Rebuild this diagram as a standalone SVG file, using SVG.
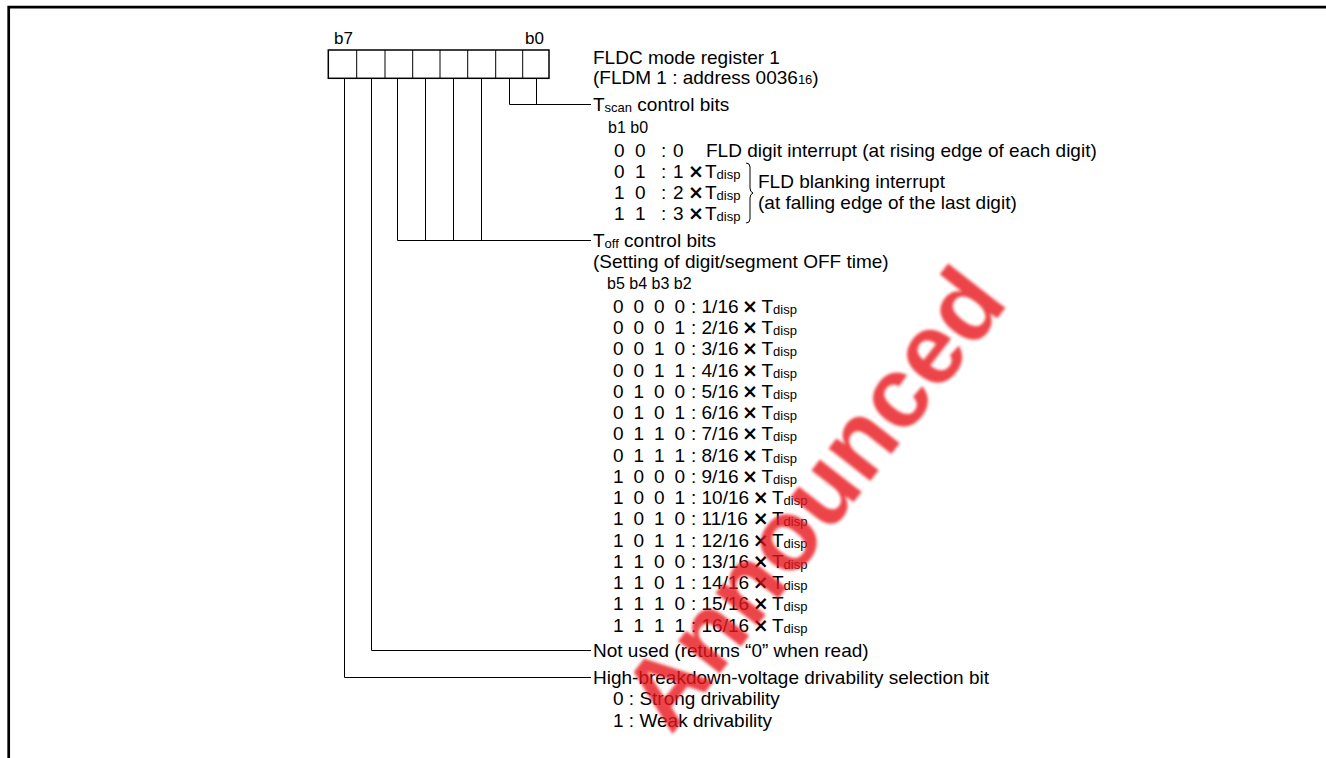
<svg xmlns="http://www.w3.org/2000/svg" width="1326" height="758" viewBox="0 0 1326 758">
<defs>
<filter id="soft" x="-10%" y="-10%" width="120%" height="120%"><feGaussianBlur stdDeviation="1.6"/></filter>
</defs>
<style>
text{font-family:"Liberation Sans",Arial,Helvetica,sans-serif;font-size:19px;fill:#000}
.s{font-size:13px}
.b{font-size:16px}
.lb{font-size:17px}
.x{font-family:"DejaVu Sans",sans-serif;font-weight:bold;font-size:19px;text-anchor:middle}
.ln{fill:none;stroke:#000;stroke-width:1}
.box{fill:#fff;stroke:#000;stroke-width:1.5}
.wm{font-family:"Liberation Sans",Arial,sans-serif;font-weight:bold;font-size:100px;fill:#e8141c}
</style>
<rect x="0" y="0" width="1326" height="758" fill="#fff"/>
<path d="M8.7,758 V7.2 H1326" fill="none" stroke="#000" stroke-width="2.7"/>

<g id="register">
<text class="lb" x="334" y="43.5">b7</text>
<text class="lb" x="525" y="43.5">b0</text>
<rect class="box" x="328.3" y="50" width="220.7" height="28.3"/>
<path class="ln" d="M356.7,50V78M385,50V78M412.7,50V78M440,50V78M467.7,50V78M495.7,50V78M522.7,50V78" stroke-width="1.5"/>
<text x="593" y="64">FLDC mode register 1</text>
<text x="593" y="84">(FLDM 1 : address 0036<tspan class="s">16</tspan>)</text>
</g>

<g id="connectors">
<path class="ln" d="M509.5,78V104.5H591M536.5,78V104.5"/>
<path class="ln" d="M397.5,78V240.5H591M425.5,78V240.5M453.5,78V240.5M481.5,78V240.5"/>
<path class="ln" d="M371.5,78V650.5H591"/>
<path class="ln" d="M344.5,78V677.5H591"/>
</g>

<g id="tscan">
<text x="593" y="111">T<tspan class="s" dy="1">scan</tspan><tspan dy="-1"> control bits</tspan></text>
<text class="b" x="608" y="133">b1 b0</text>
<text y="156.5"><tspan x="614">0</tspan><tspan x="635">0</tspan><tspan x="661">:</tspan><tspan x="673">0</tspan><tspan x="706">FLD digit interrupt (at rising edge of each digit)</tspan></text>
<text y="177.5"><tspan x="614">0</tspan><tspan x="635">1</tspan><tspan x="661">:</tspan><tspan x="673">1</tspan></text>
<text class="x" x="696" y="177.5">×</text>
<text x="705" y="177.5">T<tspan class="s" dy="1">disp</tspan></text>
<text y="198.5"><tspan x="614">1</tspan><tspan x="635">0</tspan><tspan x="661">:</tspan><tspan x="673">2</tspan></text>
<text class="x" x="696" y="198.5">×</text>
<text x="705" y="198.5">T<tspan class="s" dy="1">disp</tspan></text>
<text y="219.5"><tspan x="614">1</tspan><tspan x="635">1</tspan><tspan x="661">:</tspan><tspan x="673">3</tspan></text>
<text class="x" x="696" y="219.5">×</text>
<text x="705" y="219.5">T<tspan class="s" dy="1">disp</tspan></text>
<path class="ln" d="M746,163q4,0 4,4v21q0,4 3,5q-3,1 -3,5v21q0,4 -4,4"/>
<text x="758" y="188">FLD blanking interrupt</text>
<text x="758" y="209">(at falling edge of the last digit)</text>
</g>

<g id="toff">
<text x="593" y="247">T<tspan class="s" dy="1">off</tspan><tspan dy="-1"> control bits</tspan></text>
<text x="593" y="267.5">(Setting of digit/segment OFF time)</text>
<text class="b" x="607" y="288.5">b5 b4 b3 b2</text>
<text y="312.7"><tspan x="613">0</tspan><tspan x="633.5">0</tspan><tspan x="654">0</tspan><tspan x="674.5">0</tspan><tspan x="691">: 1/16</tspan><tspan class="x" x="750">×</tspan><tspan x="761.5">T</tspan><tspan class="s" dy="1">disp</tspan></text>
<text y="334"><tspan x="613">0</tspan><tspan x="633.5">0</tspan><tspan x="654">0</tspan><tspan x="674.5">1</tspan><tspan x="691">: 2/16</tspan><tspan class="x" x="750">×</tspan><tspan x="761.5">T</tspan><tspan class="s" dy="1">disp</tspan></text>
<text y="355.2"><tspan x="613">0</tspan><tspan x="633.5">0</tspan><tspan x="654">1</tspan><tspan x="674.5">0</tspan><tspan x="691">: 3/16</tspan><tspan class="x" x="750">×</tspan><tspan x="761.5">T</tspan><tspan class="s" dy="1">disp</tspan></text>
<text y="376.5"><tspan x="613">0</tspan><tspan x="633.5">0</tspan><tspan x="654">1</tspan><tspan x="674.5">1</tspan><tspan x="691">: 4/16</tspan><tspan class="x" x="750">×</tspan><tspan x="761.5">T</tspan><tspan class="s" dy="1">disp</tspan></text>
<text y="397.7"><tspan x="613">0</tspan><tspan x="633.5">1</tspan><tspan x="654">0</tspan><tspan x="674.5">0</tspan><tspan x="691">: 5/16</tspan><tspan class="x" x="750">×</tspan><tspan x="761.5">T</tspan><tspan class="s" dy="1">disp</tspan></text>
<text y="419"><tspan x="613">0</tspan><tspan x="633.5">1</tspan><tspan x="654">0</tspan><tspan x="674.5">1</tspan><tspan x="691">: 6/16</tspan><tspan class="x" x="750">×</tspan><tspan x="761.5">T</tspan><tspan class="s" dy="1">disp</tspan></text>
<text y="440.2"><tspan x="613">0</tspan><tspan x="633.5">1</tspan><tspan x="654">1</tspan><tspan x="674.5">0</tspan><tspan x="691">: 7/16</tspan><tspan class="x" x="750">×</tspan><tspan x="761.5">T</tspan><tspan class="s" dy="1">disp</tspan></text>
<text y="461.5"><tspan x="613">0</tspan><tspan x="633.5">1</tspan><tspan x="654">1</tspan><tspan x="674.5">1</tspan><tspan x="691">: 8/16</tspan><tspan class="x" x="750">×</tspan><tspan x="761.5">T</tspan><tspan class="s" dy="1">disp</tspan></text>
<text y="482.7"><tspan x="613">1</tspan><tspan x="633.5">0</tspan><tspan x="654">0</tspan><tspan x="674.5">0</tspan><tspan x="691">: 9/16</tspan><tspan class="x" x="750">×</tspan><tspan x="761.5">T</tspan><tspan class="s" dy="1">disp</tspan></text>
<text y="504"><tspan x="613">1</tspan><tspan x="633.5">0</tspan><tspan x="654">0</tspan><tspan x="674.5">1</tspan><tspan x="691">: 10/16</tspan><tspan class="x" x="760.6">×</tspan><tspan x="772">T</tspan><tspan class="s" dy="1">disp</tspan></text>
<text y="525.2"><tspan x="613">1</tspan><tspan x="633.5">0</tspan><tspan x="654">1</tspan><tspan x="674.5">0</tspan><tspan x="691">: 11/16</tspan><tspan class="x" x="760.6">×</tspan><tspan x="772">T</tspan><tspan class="s" dy="1">disp</tspan></text>
<text y="546.5"><tspan x="613">1</tspan><tspan x="633.5">0</tspan><tspan x="654">1</tspan><tspan x="674.5">1</tspan><tspan x="691">: 12/16</tspan><tspan class="x" x="760.6">×</tspan><tspan x="772">T</tspan><tspan class="s" dy="1">disp</tspan></text>
<text y="567.7"><tspan x="613">1</tspan><tspan x="633.5">1</tspan><tspan x="654">0</tspan><tspan x="674.5">0</tspan><tspan x="691">: 13/16</tspan><tspan class="x" x="760.6">×</tspan><tspan x="772">T</tspan><tspan class="s" dy="1">disp</tspan></text>
<text y="589"><tspan x="613">1</tspan><tspan x="633.5">1</tspan><tspan x="654">0</tspan><tspan x="674.5">1</tspan><tspan x="691">: 14/16</tspan><tspan class="x" x="760.6">×</tspan><tspan x="772">T</tspan><tspan class="s" dy="1">disp</tspan></text>
<text y="610.2"><tspan x="613">1</tspan><tspan x="633.5">1</tspan><tspan x="654">1</tspan><tspan x="674.5">0</tspan><tspan x="691">: 15/16</tspan><tspan class="x" x="760.6">×</tspan><tspan x="772">T</tspan><tspan class="s" dy="1">disp</tspan></text>
<text y="631.5"><tspan x="613">1</tspan><tspan x="633.5">1</tspan><tspan x="654">1</tspan><tspan x="674.5">1</tspan><tspan x="691">: 16/16</tspan><tspan class="x" x="760.6">×</tspan><tspan x="772">T</tspan><tspan class="s" dy="1">disp</tspan></text>
</g>

<g id="notused">
<text x="593" y="657">Not used (returns “0” when read)</text>
</g>

<g id="drive">
<text x="593" y="684">High-breakdown-voltage drivability selection bit</text>
<text x="613" y="705">0 : Strong drivability</text>
<text x="613" y="727">1 : Weak drivability</text>
</g>

<g id="watermark" opacity="0.8" filter="url(#soft)">
<text class="wm" transform="translate(671,736) rotate(-52)">Announced</text>
</g>
</svg>
